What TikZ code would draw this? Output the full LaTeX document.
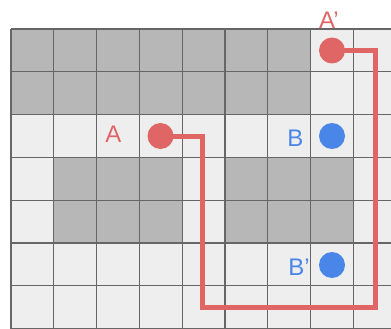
\documentclass[tikz,border=0pt]{standalone}
\usepackage{fontspec}
\setmainfont{Liberation Sans}
\definecolor{cred}{HTML}{E06666}
\definecolor{cblue}{HTML}{4A86E8}
\definecolor{cgray}{HTML}{B7B7B7}
\definecolor{clight}{HTML}{EEEEEE}
\definecolor{cline}{HTML}{666666}
\begin{document}
\begin{tikzpicture}[x=1pt,y=-1pt,
  dot/.style={circle,inner sep=0pt,minimum size=26pt},
  lbl/.style={font=\fontsize{24}{29}\selectfont,inner sep=0pt},
  cell/.style={fill=cgray}]
\useasboundingbox (0,0) rectangle (391,329);
\begin{scope}
\clip (0,0) rectangle (391,329);
\fill[clight] (11,29) rectangle (395,333);
\fill[cgray] (11,29) rectangle (311,115);
\fill[cgray] (54,157.5) rectangle (182,243.3);
\fill[cgray] (225,157.5) rectangle (353.3,243.3);
\foreach \i in {0,...,8} {\draw[cline,line width=1.2pt] ({11+\i*42.8},29) -- ({11+\i*42.8},335);}
\foreach \j in {0,...,7} {\draw[cline,line width=1.2pt] (11,{29+\j*42.8}) -- (395,{29+\j*42.8});}
\end{scope}
\node[dot] (A) at (160.5,136) {};
\node[dot] (Ap) at (332,50.5) {};
\node[dot,fill=cblue] (B) at (332,136) {};
\node[dot,fill=cblue] (Bp) at (332,265) {};
\coordinate (c1) at (202,136);
\coordinate (c2) at (202,307.5);
\coordinate (c3) at (375.5,307.5);
\coordinate (c4) at (375.5,50.5);
\draw[cred,line width=5pt,line join=miter] (A.center) -- (c1) -- (c2) -- (c3) -- (c4) -- (Ap.center);
\fill[cred] (A) circle (13);
\fill[cred] (Ap) circle (13);
\node[lbl,text=cred] (la) at (113.5,134) {A};
\node[lbl,text=cred] (lap) at (329,20) {A’};
\node[lbl,text=cblue] (lb) at (295.5,138) {B};
\node[lbl,text=cblue] (lbp) at (299,267) {B’};
\end{tikzpicture}
\end{document}
